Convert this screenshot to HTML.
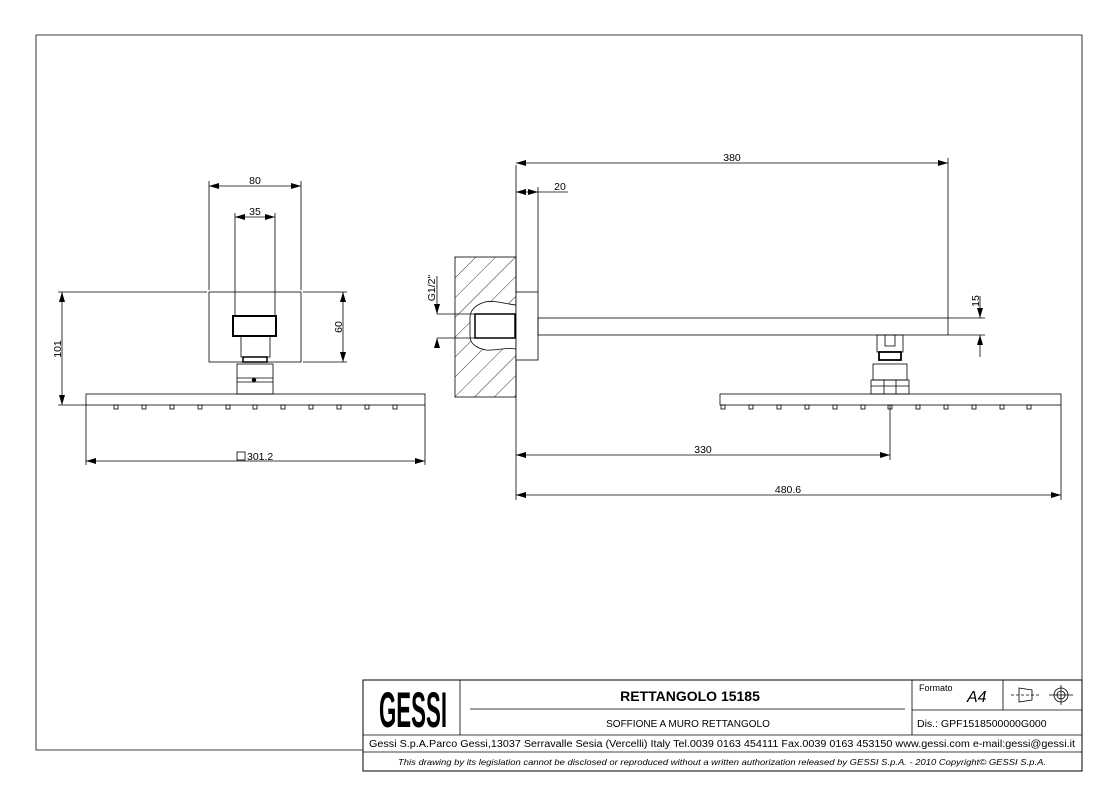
<!DOCTYPE html>
<html><head><meta charset="utf-8"><style>
body{margin:0;background:#fff}
svg{display:block}
text{font-family:"Liberation Sans",sans-serif;fill:#000}
</style></head><body>
<svg width="1115" height="785" viewBox="0 0 1115 785" xmlns="http://www.w3.org/2000/svg">
<defs>
<marker id="a" viewBox="0 0 10 6" refX="10" refY="3" markerWidth="10" markerHeight="6" orient="auto-start-reverse" markerUnits="userSpaceOnUse"><path d="M0,0L10,3L0,6z" fill="#000"/></marker>
<pattern id="h" width="14" height="14" patternUnits="userSpaceOnUse" patternTransform="rotate(45)"><line x1="0" y1="0" x2="0" y2="14" stroke="#000" stroke-width="0.8"/></pattern>
<clipPath id="wc"><rect x="455" y="257" width="61" height="140"/></clipPath>
</defs>
<g fill="none" stroke="#000" stroke-width="0.8">
<polyline points="363,750 36,750 36,35 1082,35 1082,680"/>
<rect x="363" y="680" width="719" height="91" stroke-width="1"/>
<line x1="363" y1="735" x2="1082" y2="735"/>
<line x1="363" y1="752" x2="1082" y2="752"/>
<line x1="460" y1="680" x2="460" y2="735"/>
<line x1="912" y1="680" x2="912" y2="735"/>
<line x1="912" y1="710" x2="1082" y2="710"/>
<line x1="1003" y1="680" x2="1003" y2="710"/>
<line x1="470" y1="709" x2="905" y2="709"/>
<path d="M1019,688 L1032,690 L1032,700 L1019,702z"/>
<line x1="1011" y1="695" x2="1040" y2="695" stroke-dasharray="3,2"/>
<circle cx="1061" cy="695" r="7"/><circle cx="1061" cy="695" r="4"/>
<line x1="1049" y1="695" x2="1073" y2="695"/><line x1="1061" y1="685" x2="1061" y2="705"/>

<rect x="86" y="394" width="339" height="11"/>
<g>
<rect x="114" y="405" width="4" height="4"/><rect x="142" y="405" width="4" height="4"/><rect x="170" y="405" width="4" height="4"/><rect x="198" y="405" width="4" height="4"/><rect x="226" y="405" width="4" height="4"/><rect x="253" y="405" width="4" height="4"/><rect x="281" y="405" width="4" height="4"/><rect x="309" y="405" width="4" height="4"/><rect x="337" y="405" width="4" height="4"/><rect x="365" y="405" width="4" height="4"/><rect x="393" y="405" width="4" height="4"/>
</g>
<rect x="209" y="292" width="92" height="70"/>
<rect x="233" y="316" width="43" height="20" stroke-width="2"/>
<rect x="241" y="336" width="29" height="21"/>
<rect x="243" y="357" width="24" height="5" stroke-width="1.5"/>
<rect x="237" y="364" width="36" height="30"/>
<line x1="237" y1="378" x2="273" y2="378"/><line x1="237" y1="382" x2="273" y2="382"/>
<circle cx="254" cy="380" r="1.8" fill="#000"/>
<line x1="209" y1="181" x2="209" y2="290"/><line x1="301" y1="181" x2="301" y2="290"/>
<line x1="209" y1="186" x2="301" y2="186" marker-start="url(#a)" marker-end="url(#a)"/>
<line x1="235" y1="213" x2="235" y2="316"/><line x1="275" y1="213" x2="275" y2="316"/>
<line x1="235" y1="217" x2="275" y2="217" marker-start="url(#a)" marker-end="url(#a)"/>
<line x1="303" y1="292" x2="347" y2="292"/><line x1="303" y1="362" x2="347" y2="362"/>
<line x1="343" y1="292" x2="343" y2="362" marker-start="url(#a)" marker-end="url(#a)"/>
<line x1="58" y1="292" x2="207" y2="292"/><line x1="58" y1="405" x2="86" y2="405"/>
<line x1="62" y1="292" x2="62" y2="405" marker-start="url(#a)" marker-end="url(#a)"/>
<line x1="86" y1="405" x2="86" y2="465"/><line x1="425" y1="405" x2="425" y2="465"/>
<line x1="86" y1="461" x2="425" y2="461" marker-start="url(#a)" marker-end="url(#a)"/>
<rect x="237" y="452" width="8" height="8"/>

<rect x="455" y="257" width="61" height="140"/>
<g clip-path="url(#wc)">
<rect x="455" y="257" width="61" height="140" fill="url(#h)" stroke="none"/>
<path d="M516,305 C505,304 495,300 485,302 C475,305 470,310 470,318 L470,336 C470,344 476,348 486,350 C497,351 505,347 516,349 z" fill="#fff" stroke="#000"/>
</g>
<rect x="475" y="314" width="40" height="24" stroke-width="1.5" fill="#fff"/>
<line x1="516" y1="165" x2="516" y2="500"/>
<rect x="516" y="292" width="22" height="68" fill="#fff"/>
<rect x="538" y="318" width="410" height="17"/>
<line x1="538" y1="187" x2="538" y2="292"/>
<line x1="948" y1="158" x2="948" y2="318"/>
<line x1="516" y1="163" x2="948" y2="163" marker-start="url(#a)" marker-end="url(#a)"/>
<line x1="516" y1="192" x2="538" y2="192" marker-start="url(#a)" marker-end="url(#a)"/>
<line x1="538" y1="192" x2="568" y2="192"/>
<line x1="948" y1="318" x2="985" y2="318"/><line x1="948" y1="335" x2="985" y2="335"/>
<line x1="980" y1="296" x2="980" y2="318" marker-end="url(#a)"/>
<line x1="980" y1="357" x2="980" y2="335" marker-end="url(#a)"/>
<line x1="437" y1="314" x2="478" y2="314"/><line x1="437" y1="338" x2="478" y2="338"/>
<line x1="437" y1="276" x2="437" y2="314" marker-end="url(#a)"/>
<line x1="437" y1="345" x2="437" y2="338" marker-end="url(#a)"/>
<rect x="877" y="335" width="26" height="17"/>
<path d="M885,335 V346 H895 V335"/>
<rect x="879" y="352" width="22" height="8" stroke-width="1.8"/>
<rect x="873" y="364" width="34" height="16"/>
<rect x="871" y="380" width="38" height="14"/>
<line x1="871" y1="386" x2="909" y2="386"/>
<line x1="884" y1="380" x2="884" y2="394"/><line x1="896" y1="380" x2="896" y2="394"/>
<rect x="720" y="394" width="341" height="11"/>
<g>
<rect x="721" y="405" width="4" height="4"/><rect x="749" y="405" width="4" height="4"/><rect x="777" y="405" width="4" height="4"/><rect x="805" y="405" width="4" height="4"/><rect x="833" y="405" width="4" height="4"/><rect x="861" y="405" width="4" height="4"/><rect x="888" y="405" width="4" height="4"/><rect x="916" y="405" width="4" height="4"/><rect x="944" y="405" width="4" height="4"/><rect x="972" y="405" width="4" height="4"/><rect x="1000" y="405" width="4" height="4"/><rect x="1027" y="405" width="4" height="4"/>
</g>
<line x1="890" y1="405" x2="890" y2="460"/>
<line x1="516" y1="455" x2="890" y2="455" marker-start="url(#a)" marker-end="url(#a)"/>
<line x1="1061" y1="405" x2="1061" y2="500"/>
<line x1="516" y1="495" x2="1061" y2="495" marker-start="url(#a)" marker-end="url(#a)"/>
</g>
<g font-size="10.5">
<text x="255" y="184" text-anchor="middle">80</text>
<text x="255" y="215" text-anchor="middle">35</text>
<text x="342" y="327" text-anchor="middle" transform="rotate(-90 342 327)">60</text>
<text x="61" y="349" text-anchor="middle" transform="rotate(-90 61 349)">101</text>
<text x="247" y="460">301.2</text>
<text x="732" y="161" text-anchor="middle">380</text>
<text x="560" y="190" text-anchor="middle">20</text>
<text x="979" y="301" text-anchor="middle" transform="rotate(-90 979 301)">15</text>
<text x="435" y="288" text-anchor="middle" transform="rotate(-90 435 288)">G1/2"</text>
<text x="703" y="453" text-anchor="middle">330</text>
<text x="788" y="493" text-anchor="middle">480.6</text>
</g>
<text x="413" y="727" text-anchor="middle" font-size="50" font-weight="bold" textLength="68" lengthAdjust="spacingAndGlyphs">GESSI</text>
<text x="690" y="701" text-anchor="middle" font-size="14" font-weight="bold">RETTANGOLO 15185</text>
<text x="688" y="727" text-anchor="middle" font-size="10">SOFFIONE A MURO RETTANGOLO</text>
<text x="919" y="691" font-size="9">Formato</text>
<text x="967" y="702" font-size="16" font-style="italic">A4</text>
<text x="917" y="727" font-size="10.5">Dis.: GPF1518500000G000</text>
<text x="722" y="747" text-anchor="middle" font-size="10" textLength="706" lengthAdjust="spacingAndGlyphs">Gessi S.p.A.Parco Gessi,13037 Serravalle Sesia (Vercelli) Italy Tel.0039 0163 454111 Fax.0039 0163 453150 www.gessi.com e-mail:gessi@gessi.it</text>
<text x="722" y="765" text-anchor="middle" font-size="8.5" font-style="italic" textLength="648" lengthAdjust="spacingAndGlyphs">This drawing by its legislation cannot be disclosed or reproduced without a written authorization released by GESSI S.p.A. - 2010 Copyright© GESSI S.p.A.</text>
</svg>
</body></html>
